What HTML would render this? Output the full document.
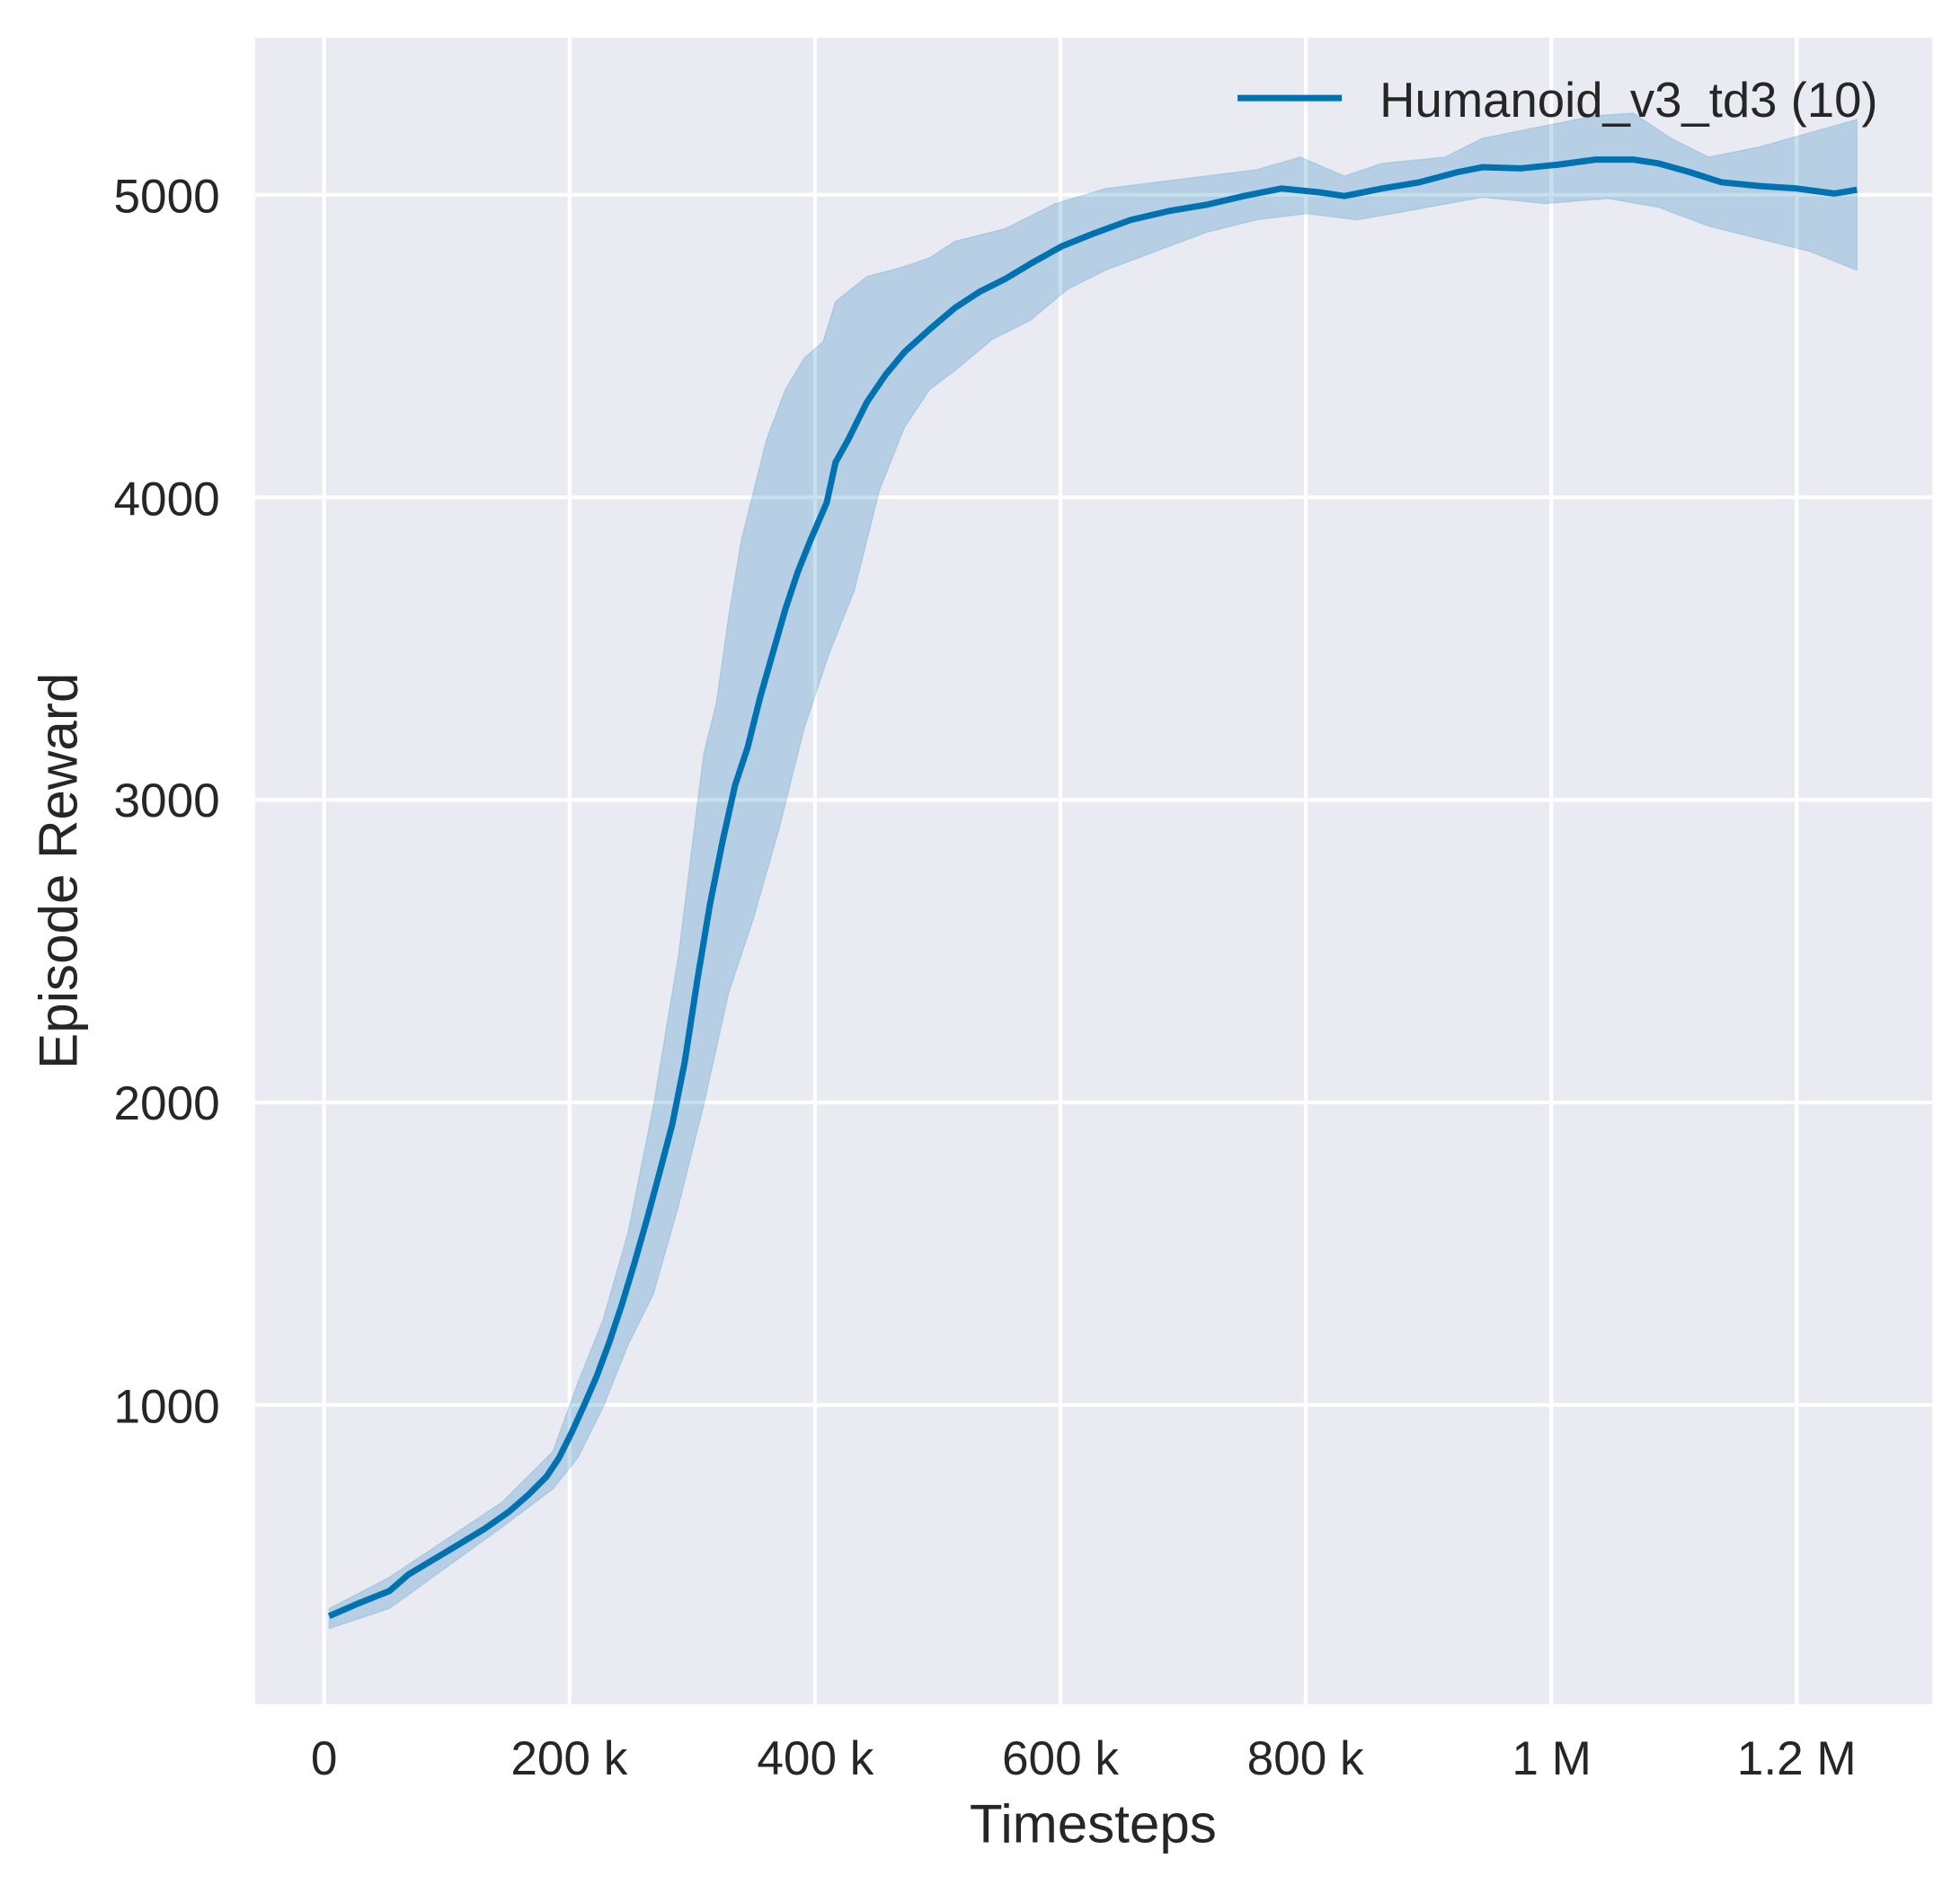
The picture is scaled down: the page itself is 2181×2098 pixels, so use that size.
<!DOCTYPE html>
<html><head><style>html,body{margin:0;padding:0;background:#fff}svg{display:block}</style></head>
<body>
<svg width="2181" height="2098" viewBox="0 0 1560 1500" preserveAspectRatio="none" xmlns="http://www.w3.org/2000/svg" font-family="Liberation Sans, sans-serif" fill="#262626">
<rect x="203" y="30" width="1335" height="1326" fill="#eaeaf2"/>
<g stroke="#fff" stroke-width="3">
<line x1="258" y1="30" x2="258" y2="1356"/><line x1="453.3" y1="30" x2="453.3" y2="1356"/><line x1="648.7" y1="30" x2="648.7" y2="1356"/><line x1="844" y1="30" x2="844" y2="1356"/><line x1="1039.3" y1="30" x2="1039.3" y2="1356"/><line x1="1234.7" y1="30" x2="1234.7" y2="1356"/><line x1="1430" y1="30" x2="1430" y2="1356"/>
<line x1="203" y1="155" x2="1538" y2="155"/><line x1="203" y1="395.75" x2="1538" y2="395.75"/><line x1="203" y1="636.5" x2="1538" y2="636.5"/><line x1="203" y1="877.25" x2="1538" y2="877.25"/><line x1="203" y1="1118" x2="1538" y2="1118"/>
</g>
<polygon fill="#0072b2" fill-opacity="0.22" stroke="#0072b2" stroke-opacity="0.15" points="262,1280 310,1255 400,1195 440,1155 460,1100 480,1050 500,980 520,880 540,760 550,680 560,600 570,560 580,490 590,430 600,390 610,350 625,310 640,285 655,272 665,240 690,220 720,212 740,205 760,192 800,182 840,162 880,150 920,145 960,140 1000,135 1035,125 1070,140 1100,130 1150,125 1180,110 1230,100 1270,92 1300,90 1330,110 1360,125 1400,117 1478,95 1478,215 1440,200 1400,190 1360,180 1320,165 1280,158 1230,162 1180,157 1120,168 1080,175 1040,170 1000,175 960,185 920,200 880,215 850,230 820,255 790,270 760,295 740,310 720,340 700,390 680,470 660,520 640,580 620,660 600,730 580,790 560,880 540,960 520,1030 500,1070 480,1120 460,1160 440,1185 400,1215 310,1280 262,1296"/>
<polyline fill="none" stroke="#0072b2" stroke-width="5" stroke-linejoin="round" points="262,1286 285,1276 310,1266 325,1253 345,1241 365,1229 385,1217 405,1203 420,1190 435,1175 445,1160 455,1140 465,1118 475,1095 485,1068 495,1038 505,1005 515,970 525,933 535,895 545,845 555,780 565,720 575,670 585,625 595,595 605,555 615,520 625,485 635,455 645,430 658,400 665,368 675,350 690,320 705,298 720,280 740,262 760,245 780,232 800,222 820,210 845,196 870,186 900,175 930,168 960,163 990,156 1020,150 1050,153 1070,156 1100,150 1130,145 1160,137 1180,133 1210,134 1240,131 1270,127 1300,127 1320,130 1345,137 1370,145 1400,148 1430,150 1460,154 1478,151"/>
<g font-size="38" text-anchor="end">
<text x="175" y="169">5000</text><text x="175" y="410">4000</text><text x="175" y="650">3000</text><text x="175" y="891">2000</text><text x="175" y="1132">1000</text>
</g>
<g font-size="38" text-anchor="middle">
<text x="258" y="1412">0</text><text x="453" y="1412">200 k</text><text x="649" y="1412">400 k</text><text x="844" y="1412">600 k</text><text x="1039" y="1412">800 k</text><text x="1235" y="1412">1 M</text><text x="1430" y="1412">1.2 M</text>
</g>
<text x="870" y="1466" font-size="43" text-anchor="middle">Timesteps</text>
<text transform="translate(61,693) rotate(-90)" font-size="43" text-anchor="middle">Episode Reward</text>
<line x1="985" y1="78" x2="1068" y2="78" stroke="#0072b2" stroke-width="5"/>
<text x="1098" y="93" font-size="39">Humanoid_v3_td3 (10)</text>
</svg>
</body></html>
